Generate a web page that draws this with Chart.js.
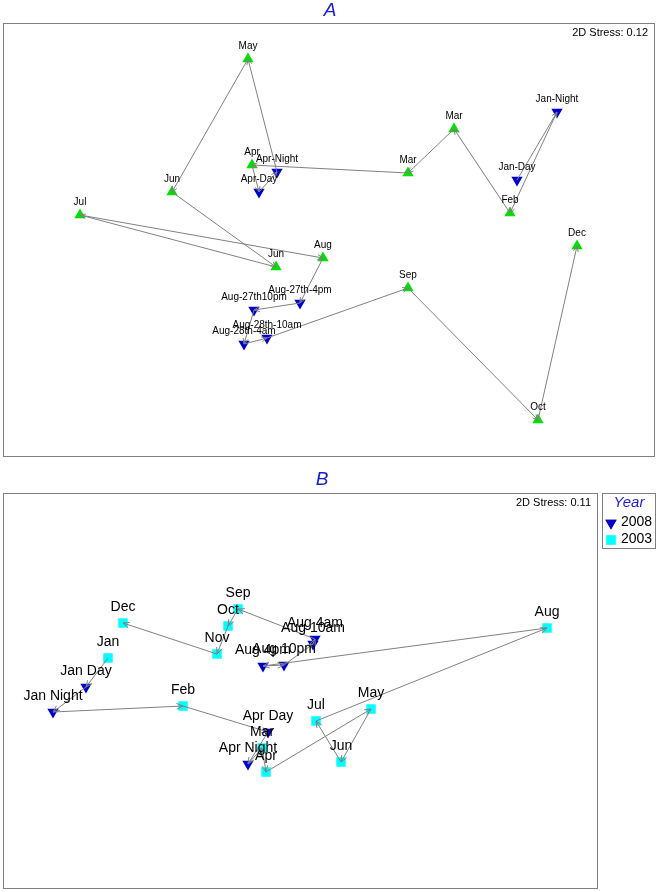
<!DOCTYPE html>
<html><head><meta charset="utf-8">
<script src="https://cdn.jsdelivr.net/npm/chart.js@4"></script>
<style>
body{margin:0;background:#fff;width:659px;height:892px;overflow:hidden}
canvas{position:absolute;left:0}
</style>
</head><body>
<canvas id="ca" width="659" height="460" style="top:0"></canvas>
<canvas id="cb" width="659" height="432" style="top:460px"></canvas>
<script>
// ---------- Panel A (MDS ordination, samples in path order) ----------
const aLabels = ['Jan-Day','Jan-Night','Feb','Mar','Mar','Apr','Apr-Day','Apr-Night','May','Jun','Jun','Jul','Aug',
  'Aug-27th-4pm','Aug-27th10pm','Aug-28th-4am','Aug-28th-10am','Sep','Oct','Dec'];
const aX = [1.89, 2.29, 1.82, 1.26, 0.80, -0.76, -0.69, -0.51, -0.80, -1.56, -0.52, -2.48, -0.05,
  -0.28, -0.74, -0.84, -0.61, 0.80, 2.10, 2.49];
const aY = [0.60, 1.28, 0.27, 1.11, 0.67, 0.75, 0.48, 0.68, 1.81, 0.48, -0.27, 0.25, -0.18,
  -0.63, -0.70, -1.04, -0.98, -0.48, -1.80, -0.06];
const aSampling = ['diel','diel','monthly','monthly','monthly','monthly','diel','diel','monthly','monthly','monthly','monthly','monthly',
  'diel','diel','diel','diel','monthly','monthly','monthly'];
const aStress = '2D Stress: 0.12';

// ---------- Panel B ----------
const bLabels = ['Jan','Jan Day','Jan Night','Feb','Apr Day','Apr Night','Mar','Apr','May','Jun','Jul','Aug',
  'Aug 4pm','Aug 10pm','Aug 10am','Aug 4am','Sep','Oct','Nov','Dec'];
const bX = [-1.92, -2.14, -2.47, -1.17, -0.32, -0.52, -0.38, -0.34, 0.71, 0.41, 0.16, 2.47,
  -0.37, -0.16, 0.13, 0.15, -0.62, -0.72, -0.83, -1.77];
const bY = [0.22, -0.07, -0.32, -0.26, -0.52, -0.84, -0.68, -0.92, -0.29, -0.82, -0.41, 0.52,
  0.14, 0.15, 0.36, 0.41, 0.71, 0.54, 0.26, 0.57];
const bYear = ['2003','2008','2008','2003','2008','2008','2003','2003','2003','2003','2003','2003',
  '2008','2008','2008','2008','2003','2003','2003','2003'];
const bStress = '2D Stress: 0.11';
const legendYears = ['2008','2003'];

const FONT = '"Liberation Sans", Arial, sans-serif';
const GREEN = '#00e000', BLUE = '#0000cc', CYAN = '#00ffff', LINE = '#808080';

function pts(xs, ys, labels, filt) {
  const out = [];
  xs.forEach((x, i) => { if (filt(i)) out.push({x, y: ys[i], label: labels[i]}); });
  return out;
}

const panelPlugin = {
  id: 'panel',
  beforeDatasetsDraw(chart) {
    const a = chart.chartArea, ctx = chart.ctx;
    ctx.save();
    ctx.strokeStyle = '#808080'; ctx.lineWidth = 1;
    ctx.strokeRect(Math.round(a.left) + 0.5, Math.round(a.top) + 0.5,
      Math.round(a.right - a.left), Math.round(a.bottom - a.top));
    ctx.restore();
  },
  afterDatasetsDraw(chart, args, o) {
    const ctx = chart.ctx;
    ctx.save();
    // arrowheads on path dataset (index 0)
    const path = chart.getDatasetMeta(0).data;
    ctx.strokeStyle = LINE; ctx.lineWidth = 1;
    for (let i = 1; i < path.length; i++) {
      const p0 = path[i - 1], p1 = path[i];
      const ang = Math.atan2(p1.y - p0.y, p1.x - p0.x);
      const L = o.arrow, w = 0.42;
      ctx.beginPath();
      ctx.moveTo(p1.x - L * Math.cos(ang - w), p1.y - L * Math.sin(ang - w));
      ctx.lineTo(p1.x, p1.y);
      ctx.lineTo(p1.x - L * Math.cos(ang + w), p1.y - L * Math.sin(ang + w));
      ctx.stroke();
    }
    // point labels
    ctx.fillStyle = '#000';
    ctx.font = o.labelSize + 'px ' + FONT;
    ctx.textAlign = 'center'; ctx.textBaseline = 'middle';
    chart.data.datasets.forEach((ds, di) => {
      if (di === 0) return;
      const meta = chart.getDatasetMeta(di);
      meta.data.forEach((el, i) => {
        ctx.fillText(ds.data[i].label, el.x, el.y - o.labelOffset);
      });
    });
    // title
    ctx.fillStyle = '#1c1cd0';
    ctx.font = 'italic 19px ' + FONT;
    ctx.fillText(o.title, o.titleX, o.titleY);
    // stress
    ctx.fillStyle = '#000';
    ctx.font = '11px ' + FONT;
    ctx.textAlign = 'right';
    ctx.fillText(o.stress, chart.chartArea.right - 6, chart.chartArea.top + 10);
    // legend
    if (o.legend) {
      const lx = 602.5, ly = 33.5, lw = 53, lh = 55;
      ctx.strokeStyle = '#808080';
      ctx.strokeRect(lx, ly, lw, lh);
      ctx.textAlign = 'center';
      ctx.fillStyle = '#1c1cd0';
      ctx.font = 'italic 15px ' + FONT;
      ctx.fillText('Year', 629, 43);
      ctx.textAlign = 'left';
      ctx.font = '14px ' + FONT;
      o.legend.forEach((it, k) => {
        const yy = 63 + k * 17;
        ctx.fillStyle = it.color; ctx.strokeStyle = it.color;
        Chart.helpers.drawPoint(ctx, {pointStyle: it.style, rotation: it.rot, radius: 6.5, borderWidth: 0}, 611, yy);
        ctx.fill();
        ctx.fillStyle = '#000';
        ctx.fillText(it.text, 621, yy - 1);
      });
    }
    ctx.restore();
  }
};

function makeChart(id, xs, ys, labels, groups, groupDefs, scales, padding, pOpts) {
  const datasets = [{
    data: xs.map((x, i) => ({x, y: ys[i]})),
    showLine: true, borderColor: LINE, borderWidth: 1, pointRadius: 0, fill: false
  }];
  groupDefs.forEach(g => {
    datasets.push({
      data: pts(xs, ys, labels, i => groups[i] === g.key),
      pointStyle: g.style, rotation: g.rot, pointRadius: g.r,
      backgroundColor: g.color, borderColor: g.color, borderWidth: 0, showLine: false
    });
  });
  return new Chart(document.getElementById(id), {
    type: 'scatter',
    data: {datasets},
    options: {
      responsive: false, animation: false, devicePixelRatio: 1,
      layout: {padding, autoPadding: false},
      scales: {
        x: {type: 'linear', display: false, min: scales.xmin, max: scales.xmax},
        y: {type: 'linear', display: false, min: scales.ymin, max: scales.ymax}
      },
      plugins: {legend: {display: false}, tooltip: {enabled: false}, panel: pOpts}
    },
    plugins: [panelPlugin]
  });
}

makeChart('ca', aX, aY, aLabels, aSampling,
  [{key: 'monthly', style: 'triangle', rot: 0, r: 6.5, color: GREEN},
   {key: 'diel', style: 'triangle', rot: 180, r: 6.5, color: BLUE}],
  {xmin: -3.25, xmax: 3.26, ymin: -2.16, ymax: 2.17},
  {left: 3, top: 23, right: 5, bottom: 4},
  {title: 'A', titleX: 330, titleY: 11, stress: aStress, labelSize: 10, labelOffset: 13, arrow: 6});

makeChart('cb', bX, bY, bLabels, bYear,
  [{key: '2003', style: 'rect', rot: 0, r: 6.7, color: CYAN},
   {key: '2008', style: 'triangle', rot: 180, r: 6.5, color: BLUE}],
  {xmin: -2.97, xmax: 2.97, ymin: -2.08, ymax: 1.87},
  {left: 3, top: 33, right: 62, bottom: 4},
  {title: 'B', titleX: 322, titleY: 20, stress: bStress, labelSize: 14, labelOffset: 16, arrow: 7,
   legend: [{text: legendYears[0], style: 'triangle', rot: 180, color: BLUE},
            {text: legendYears[1], style: 'rect', rot: 0, color: CYAN}]});
</script>
</body></html>
